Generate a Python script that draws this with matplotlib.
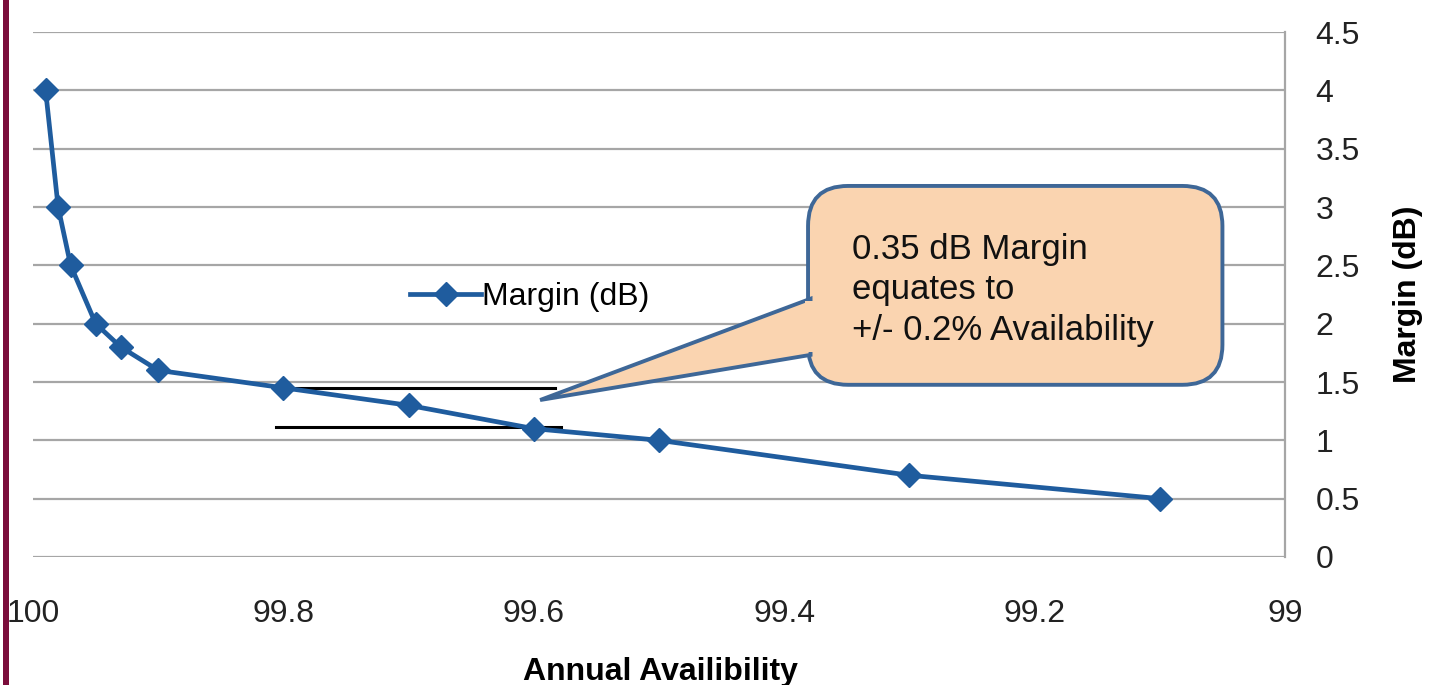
import matplotlib
matplotlib.use("Agg")
import matplotlib.pyplot as plt
from matplotlib.patches import FancyBboxPatch, Polygon, Rectangle
from matplotlib.ticker import FuncFormatter

plt.rcParams['font.family'] = ['Liberation Sans', 'DejaVu Sans']

# dados
disponibilidade = [99.99, 99.98, 99.97, 99.95, 99.93, 99.9, 99.8, 99.7, 99.6, 99.5, 99.3, 99.1]
margem_db = [4.0, 3.0, 2.5, 2.0, 1.8, 1.6, 1.45, 1.3, 1.1, 1.0, 0.7, 0.5]

# linhas de referencia pretas (x inicio, x fim, y)
ref_x_ini = [99.806, 99.806]
ref_x_fim = [99.583, 99.578]
ref_y = [1.448, 1.112]

x_ticks = [100, 99.8, 99.6, 99.4, 99.2, 99]
y_ticks = [0, 0.5, 1, 1.5, 2, 2.5, 3, 3.5, 4, 4.5]

texto_balao = "0.35 dB Margin\nequates to\n+/- 0.2% Availability"

azul = '#1F5C9E'
cinza = '#A6A6A6'

fig = plt.figure(figsize=(14.39, 6.85), dpi=100)
ax = fig.add_axes([0.023, 0.187, 0.870, 0.766])

ax.plot(disponibilidade, margem_db, color=azul, lw=3.4, marker='D', ms=12,
        label='Margin (dB)', zorder=4)

for x0, x1, y in zip(ref_x_ini, ref_x_fim, ref_y):
    ax.plot([x0, x1], [y, y], color='black', lw=2.2, zorder=3)

ax.set_xlim(100, 99)
ax.set_ylim(0, 4.5)
ax.set_xticks(x_ticks)
ax.set_yticks(y_ticks)
ax.xaxis.set_major_formatter(FuncFormatter(lambda v, p: f"{v:g}"))
ax.yaxis.set_major_formatter(FuncFormatter(lambda v, p: f"{v:g}"))
ax.yaxis.tick_right()
ax.tick_params(axis='both', length=0, labelsize=23, colors='#222222')
ax.tick_params(axis='x', pad=30)
ax.tick_params(axis='y', pad=22)
for lbl in ax.get_yticklabels():
    lbl.set_horizontalalignment('left')

ax.grid(axis='y', color=cinza, lw=1.6)
ax.set_axisbelow(True)
for s in ['top', 'left', 'bottom']:
    ax.spines[s].set_visible(False)
ax.spines['right'].set_color(cinza)
ax.spines['right'].set_linewidth(1.6)

ax.set_ylabel('Margin (dB)', fontsize=23, fontweight='bold')
ax.yaxis.set_label_position('right')
ax.yaxis.set_label_coords(1.098, 0.5)
ax.yaxis.label.set_verticalalignment('center')
ax.set_xlabel('Annual Availibility', fontsize=23, fontweight='bold')
ax.xaxis.set_label_coords(0.501, -0.19)
ax.xaxis.label.set_verticalalignment('top')

ax.legend(loc='center', bbox_to_anchor=(0.397, 0.495), frameon=False,
          fontsize=23, handlelength=2.2, handletextpad=0.05)

# balao explicativo (coordenadas do eixo)
borda = '#3E6797'
fundo = '#FAD4B0'
tr = ax.transAxes
caixa = FancyBboxPatch((0.619, 0.328), 0.331, 0.379,
                       boxstyle="round,pad=0,rounding_size=0.032",
                       mutation_aspect=1252 / 525, transform=tr,
                       facecolor=fundo, edgecolor=borda, lw=2.8, zorder=5,
                       clip_on=False)
ax.add_patch(caixa)
ponta = Polygon([(0.621, 0.492), (0.405, 0.299), (0.621, 0.385)],
                closed=True, transform=tr, facecolor=fundo, edgecolor=borda,
                lw=2.8, zorder=5, joinstyle='miter', clip_on=False)
ax.add_patch(ponta)
tapa = Polygon([(0.6165, 0.487), (0.628, 0.487), (0.628, 0.390), (0.6165, 0.390)],
               closed=True, transform=tr, facecolor=fundo, edgecolor='none',
               zorder=6, clip_on=False)
ax.add_patch(tapa)
ax.text(0.654, 0.509, texto_balao, transform=tr, fontsize=25, va='center',
        ha='left', linespacing=1.3, color='#111111', zorder=7)

# barra lateral
fig.patches.append(Rectangle((0.002, 0), 0.004, 1, transform=fig.transFigure,
                             facecolor='#7B0D3B', edgecolor='none'))

fig.savefig('out.png', dpi=100)
